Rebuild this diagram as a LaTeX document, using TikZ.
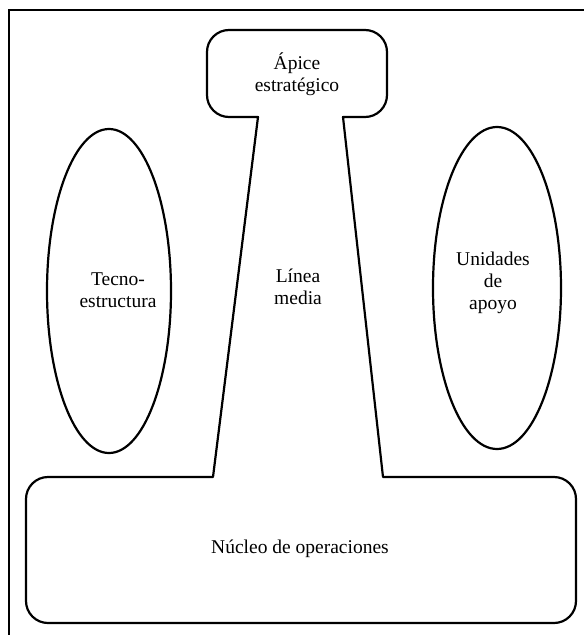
\documentclass[tikz,border=0pt]{standalone}
\usepackage{fontspec}
\setmainfont{Liberation Serif}
\begin{document}
\begin{tikzpicture}[x=1pt,y=-1pt,
  outline/.style={line width=2.2pt, line join=round},
  label/.style={align=center, font=\fontsize{19.5}{22}\selectfont, inner sep=0pt}]
\useasboundingbox (0,0) rectangle (584,635);
% page frame (only top and left edges)
\draw[line width=2.6pt] (584,10) -- (9,10) -- (9,635);

% outline: strategic apex, middle line and operating core
\coordinate (stemTL) at (258,117);
\coordinate (stemTR) at (343,117);
\coordinate (stemBL) at (213,477);
\coordinate (stemBR) at (383,477);
\draw[outline] (stemBL) [rounded corners=22pt] -- (26,477) -- (26,623) -- (576,623) -- (576,477) [sharp corners] -- (stemBR) -- (stemTR)
  [rounded corners=22pt] -- (387,117) -- (387,30) -- (207,30) -- (207,117) [sharp corners] -- (stemTL) -- cycle;

% support ellipses
\draw[outline] (109,291) ellipse [x radius=62, y radius=162];
\draw[outline] (497,288) ellipse [x radius=64, y radius=161];

\node[label] (apice) at (297,74) {Ápice\\estratégico};
\node[label] (linea) at (298,287) {Línea\\media};
\node[label] (tecno) at (118,290) {Tecno-\\estructura};
\node[label] (apoyo) at (493,283) {Unidades\\de\\apoyo};
\node[label] (nucleo) at (300,549) {Núcleo de operaciones};
\end{tikzpicture}
\end{document}
